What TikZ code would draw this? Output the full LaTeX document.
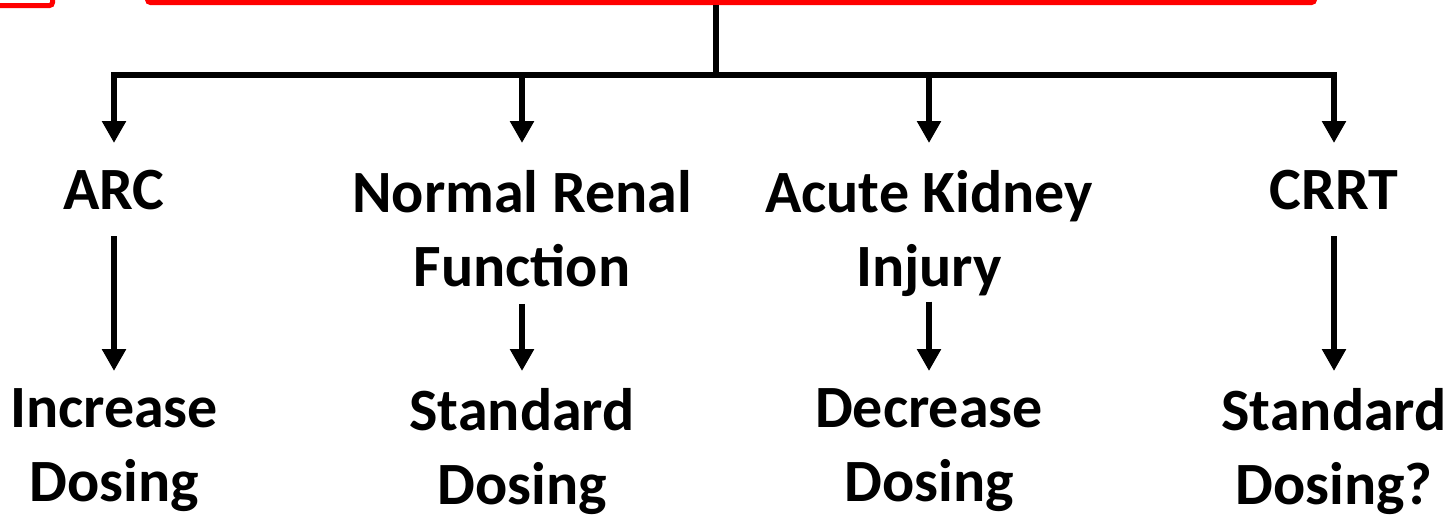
\documentclass[tikz,border=0pt]{standalone}
\usepackage{fontspec}
\setmainfont{Carlito}
\usetikzlibrary{arrows.meta}
\tikzset{
  redbox/.style={draw=red, line width=5pt, rounded corners=3pt},
  lbl/.style={anchor=north, inner sep=0pt, align=center, font=\fontsize{60}{74}\selectfont\bfseries},
  arr/.style={line width=6pt, -{Triangle[width=23pt,length=22pt]}},
  stem/.style={line width=6pt}
}
\begin{document}
\begin{tikzpicture}[x=1pt,y=-1pt]
    \useasboundingbox (0,0) rectangle (1455,514);
    \clip (0,0) rectangle (1455,514);
    % The two red boxes, cut off by the top edge.
    \node[redbox, anchor=south east, minimum width=160pt, minimum height=100pt] (side) at (55,8) {};
    \node[redbox, anchor=south west, minimum width=1167pt, minimum height=100pt] (top) at (145,5) {};
    \coordinate (bar) at (716,75);
    % Below nodes are the labels.
    \node[lbl] (arc) at (114,170) {ARC};
    \node[lbl] (nrf) at (522,170) {Normal Renal\\Function};
    \node[lbl] (aki) at (929,170) {Acute Kidney\\Injury};
    \node[lbl] (crrt) at (1334,170) {CRRT};
    \node[lbl] (inc) at (114,388) {Increase\\Dosing};
    \node[lbl] (std) at (522,388) {Standard\\Dosing};
    \node[lbl] (dec) at (929,388) {Decrease\\Dosing};
    \node[lbl] (stdq) at (1334,388) {Standard\\Dosing?};
    % This draws the branching.
    \draw[stem] (top.south -| bar) -- (bar);
    \draw[arr, shorten >=27pt] (bar) -| (arc);
    \draw[arr, shorten >=27pt] (bar) -| (nrf);
    \draw[arr, shorten >=27pt] (bar) -| (aki);
    \draw[arr, shorten >=27pt] (bar) -| (crrt);
    % Second row of arrows.
    \draw[arr, shorten <=26pt, shorten >=17pt] (arc) -- (inc);
    \draw[arr, shorten <=17pt, shorten >=17pt] (nrf) -- (std);
    \draw[arr, shorten <=5pt, shorten >=17pt] (aki) -- (dec);
    \draw[arr, shorten <=26pt, shorten >=17pt] (crrt) -- (stdq);
\end{tikzpicture}
\end{document}
